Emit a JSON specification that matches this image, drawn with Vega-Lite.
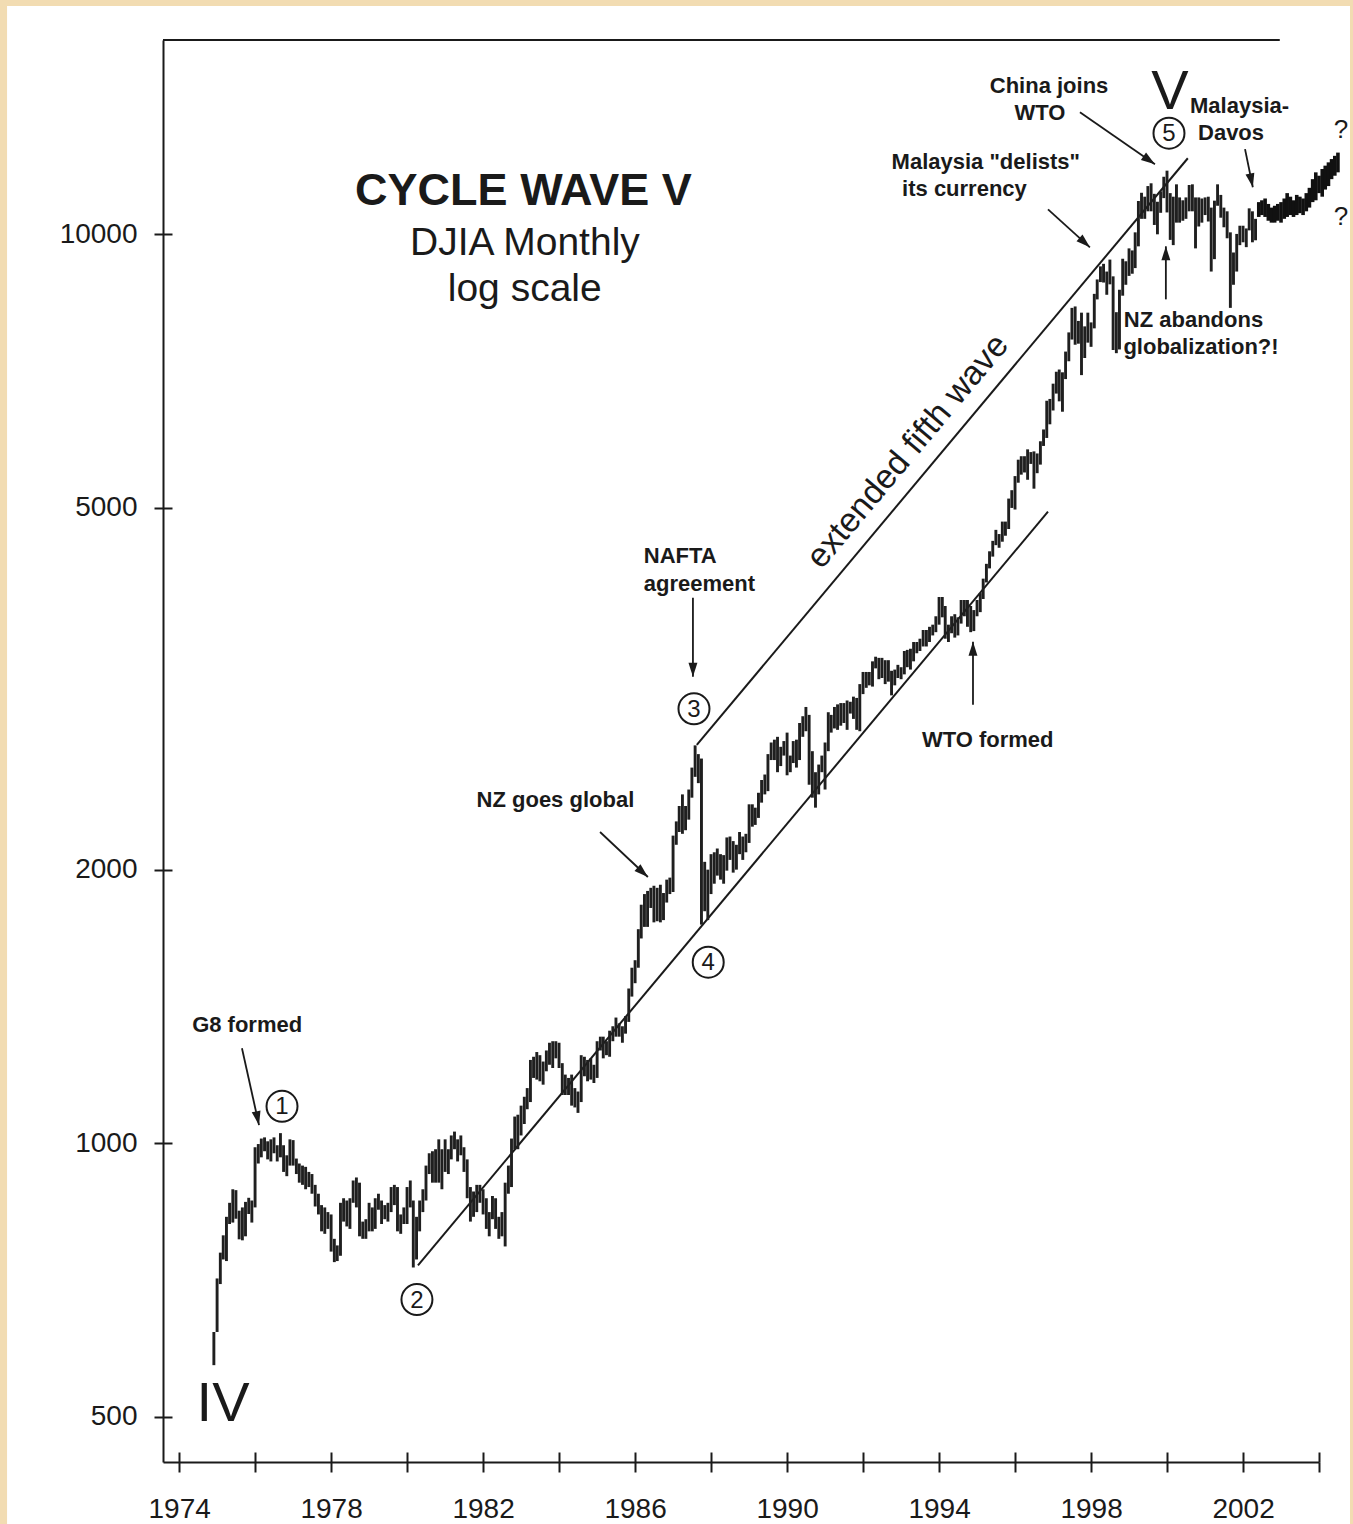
{
  "$schema": "https://vega.github.io/schema/vega-lite/v6.json",
  "width": 1156,
  "height": 1422,
  "autosize": {"type": "none"},
  "padding": {"left": 163, "top": 40, "right": 34, "bottom": 62},
  "background": "#f2dcb2",
  "config": {"view": {"stroke": null}, "font": "Liberation Sans", "text": {"font": "Liberation Sans", "color": "#1a1a1a"}},
  "datasets": {
    "page": [{"d": "1969-06-22", "v": 300, "d2": "2004-10-25", "v2": 17832}],
    "lines": [
      {"d": "1987-08-17", "v": 2743, "d2": "2000-07-19", "v2": 12125},
      {"d": "1980-04-15", "v": 734, "d2": "1996-11-13", "v2": 4953},
      {"d": "1973-07-30", "v": 16360, "d2": "2002-12-20", "v2": 16360}
    ],
    "bars": [
      {"d":"1974-12","v":570,"v2":620},
      {"d":"1975-01","v":620,"v2":710},{"d":"1975-02","v":700,"v2":758},{"d":"1975-03","v":745,"v2":792},{"d":"1975-04","v":742,"v2":830},{"d":"1975-05","v":815,"v2":860},{"d":"1975-06","v":818,"v2":890},{"d":"1975-07","v":826,"v2":888},{"d":"1975-08","v":784,"v2":843},{"d":"1975-09","v":782,"v2":850},{"d":"1975-10","v":790,"v2":862},{"d":"1975-11","v":836,"v2":871},{"d":"1975-12","v":818,"v2":865},
      {"d":"1976-01","v":850,"v2":990},{"d":"1976-02","v":950,"v2":998},{"d":"1976-03","v":965,"v2":1012},{"d":"1976-04","v":980,"v2":1015},{"d":"1976-05","v":960,"v2":1005},{"d":"1976-06","v":955,"v2":1010},{"d":"1976-07","v":975,"v2":1015},{"d":"1976-08","v":955,"v2":995},{"d":"1976-09","v":965,"v2":1026},{"d":"1976-10","v":930,"v2":995},{"d":"1976-11","v":920,"v2":970},{"d":"1976-12","v":945,"v2":1010},
      {"d":"1977-01","v":945,"v2":1008},{"d":"1977-02","v":925,"v2":962},{"d":"1977-03","v":905,"v2":950},{"d":"1977-04","v":900,"v2":945},{"d":"1977-05","v":890,"v2":942},{"d":"1977-06","v":895,"v2":930},{"d":"1977-07","v":880,"v2":925},{"d":"1977-08","v":852,"v2":900},{"d":"1977-09","v":835,"v2":880},{"d":"1977-10","v":800,"v2":855},{"d":"1977-11","v":795,"v2":850},{"d":"1977-12","v":805,"v2":840},
      {"d":"1978-01","v":760,"v2":835},{"d":"1978-02","v":740,"v2":785},{"d":"1978-03","v":742,"v2":772},{"d":"1978-04","v":752,"v2":860},{"d":"1978-05","v":820,"v2":870},{"d":"1978-06","v":810,"v2":865},{"d":"1978-07","v":805,"v2":870},{"d":"1978-08","v":860,"v2":910},{"d":"1978-09","v":850,"v2":917},{"d":"1978-10","v":790,"v2":905},{"d":"1978-11","v":785,"v2":820},{"d":"1978-12","v":785,"v2":825},
      {"d":"1979-01","v":800,"v2":860},{"d":"1979-02","v":800,"v2":850},{"d":"1979-03","v":805,"v2":870},{"d":"1979-04","v":845,"v2":880},{"d":"1979-05","v":815,"v2":865},{"d":"1979-06","v":825,"v2":855},{"d":"1979-07","v":820,"v2":860},{"d":"1979-08","v":840,"v2":895},{"d":"1979-09","v":855,"v2":900},{"d":"1979-10","v":800,"v2":895},{"d":"1979-11","v":795,"v2":835},{"d":"1979-12","v":815,"v2":850},
      {"d":"1980-01","v":815,"v2":895},{"d":"1980-02","v":850,"v2":910},{"d":"1980-03","v":730,"v2":865},{"d":"1980-04","v":745,"v2":830},{"d":"1980-05","v":800,"v2":865},{"d":"1980-06","v":840,"v2":890},{"d":"1980-07","v":865,"v2":945},{"d":"1980-08","v":925,"v2":975},{"d":"1980-09","v":905,"v2":980},{"d":"1980-10","v":905,"v2":985},{"d":"1980-11","v":905,"v2":1010},{"d":"1980-12","v":890,"v2":985},
      {"d":"1981-01","v":930,"v2":1010},{"d":"1981-02","v":925,"v2":985},{"d":"1981-03","v":960,"v2":1020},{"d":"1981-04","v":985,"v2":1030},{"d":"1981-05","v":955,"v2":1010},{"d":"1981-06","v":970,"v2":1020},{"d":"1981-07","v":930,"v2":990},{"d":"1981-08","v":870,"v2":960},{"d":"1981-09","v":820,"v2":895},{"d":"1981-10","v":830,"v2":885},{"d":"1981-11","v":840,"v2":900},{"d":"1981-12","v":860,"v2":900},
      {"d":"1982-01","v":835,"v2":890},{"d":"1982-02","v":805,"v2":870},{"d":"1982-03","v":790,"v2":840},{"d":"1982-04","v":825,"v2":875},{"d":"1982-05","v":805,"v2":870},{"d":"1982-06","v":785,"v2":830},{"d":"1982-07","v":790,"v2":840},{"d":"1982-08","v":770,"v2":905},{"d":"1982-09","v":880,"v2":945},{"d":"1982-10","v":895,"v2":1012},{"d":"1982-11","v":985,"v2":1070},{"d":"1982-12","v":985,"v2":1075},
      {"d":"1983-01","v":1020,"v2":1100},{"d":"1983-02","v":1050,"v2":1125},{"d":"1983-03","v":1090,"v2":1150},{"d":"1983-04","v":1110,"v2":1235},{"d":"1983-05","v":1180,"v2":1245},{"d":"1983-06","v":1175,"v2":1260},{"d":"1983-07","v":1170,"v2":1250},{"d":"1983-08","v":1160,"v2":1230},{"d":"1983-09","v":1200,"v2":1265},{"d":"1983-10","v":1220,"v2":1290},{"d":"1983-11","v":1210,"v2":1295},{"d":"1983-12","v":1240,"v2":1295},
      {"d":"1984-01","v":1210,"v2":1290},{"d":"1984-02","v":1130,"v2":1225},{"d":"1984-03","v":1130,"v2":1190},{"d":"1984-04","v":1130,"v2":1180},{"d":"1984-05","v":1100,"v2":1190},{"d":"1984-06","v":1095,"v2":1150},{"d":"1984-07","v":1080,"v2":1140},{"d":"1984-08","v":1110,"v2":1250},{"d":"1984-09","v":1185,"v2":1245},{"d":"1984-10","v":1170,"v2":1235},{"d":"1984-11","v":1175,"v2":1240},{"d":"1984-12","v":1165,"v2":1220},
      {"d":"1985-01","v":1180,"v2":1295},{"d":"1985-02","v":1265,"v2":1310},{"d":"1985-03","v":1240,"v2":1310},{"d":"1985-04","v":1250,"v2":1295},{"d":"1985-05","v":1245,"v2":1330},{"d":"1985-06","v":1295,"v2":1345},{"d":"1985-07","v":1310,"v2":1375},{"d":"1985-08","v":1310,"v2":1355},{"d":"1985-09","v":1290,"v2":1345},{"d":"1985-10","v":1320,"v2":1380},{"d":"1985-11","v":1360,"v2":1480},{"d":"1985-12","v":1450,"v2":1560},
      {"d":"1986-01","v":1500,"v2":1590},{"d":"1986-02","v":1560,"v2":1720},{"d":"1986-03","v":1680,"v2":1830},{"d":"1986-04","v":1730,"v2":1880},{"d":"1986-05","v":1730,"v2":1895},{"d":"1986-06","v":1815,"v2":1910},{"d":"1986-07","v":1750,"v2":1920},{"d":"1986-08","v":1755,"v2":1910},{"d":"1986-09","v":1750,"v2":1925},{"d":"1986-10","v":1760,"v2":1885},{"d":"1986-11","v":1840,"v2":1950},{"d":"1986-12","v":1880,"v2":1960},
      {"d":"1987-01","v":1890,"v2":2180},{"d":"1987-02","v":2130,"v2":2260},{"d":"1987-03","v":2200,"v2":2350},{"d":"1987-04","v":2190,"v2":2420},{"d":"1987-05","v":2210,"v2":2350},{"d":"1987-06","v":2270,"v2":2450},{"d":"1987-07","v":2400,"v2":2590},{"d":"1987-08","v":2530,"v2":2740},{"d":"1987-09","v":2490,"v2":2680},{"d":"1987-10","v":1740,"v2":2650},{"d":"1987-11","v":1800,"v2":2040},{"d":"1987-12","v":1760,"v2":2000},
      {"d":"1988-01","v":1880,"v2":2080},{"d":"1988-02","v":1930,"v2":2090},{"d":"1988-03","v":1970,"v2":2110},{"d":"1988-04","v":1950,"v2":2080},{"d":"1988-05","v":1930,"v2":2075},{"d":"1988-06","v":1995,"v2":2170},{"d":"1988-07","v":2050,"v2":2175},{"d":"1988-08","v":1985,"v2":2150},{"d":"1988-09","v":2000,"v2":2130},{"d":"1988-10","v":2080,"v2":2200},{"d":"1988-11","v":2050,"v2":2175},{"d":"1988-12","v":2090,"v2":2190},
      {"d":"1989-01","v":2140,"v2":2360},{"d":"1989-02","v":2230,"v2":2360},{"d":"1989-03","v":2240,"v2":2340},{"d":"1989-04","v":2280,"v2":2430},{"d":"1989-05","v":2370,"v2":2510},{"d":"1989-06","v":2420,"v2":2545},{"d":"1989-07","v":2440,"v2":2680},{"d":"1989-08","v":2640,"v2":2760},{"d":"1989-09","v":2640,"v2":2780},{"d":"1989-10","v":2560,"v2":2800},{"d":"1989-11","v":2600,"v2":2730},{"d":"1989-12","v":2670,"v2":2770},
      {"d":"1990-01","v":2540,"v2":2830},{"d":"1990-02","v":2560,"v2":2670},{"d":"1990-03","v":2620,"v2":2770},{"d":"1990-04","v":2590,"v2":2780},{"d":"1990-05","v":2640,"v2":2900},{"d":"1990-06","v":2800,"v2":2950},{"d":"1990-07","v":2840,"v2":3020},{"d":"1990-08","v":2480,"v2":2960},{"d":"1990-09","v":2400,"v2":2700},{"d":"1990-10","v":2340,"v2":2560},{"d":"1990-11","v":2420,"v2":2610},{"d":"1990-12","v":2560,"v2":2670},
      {"d":"1991-01","v":2450,"v2":2760},{"d":"1991-02","v":2700,"v2":2980},{"d":"1991-03","v":2830,"v2":2960},{"d":"1991-04","v":2860,"v2":3020},{"d":"1991-05","v":2850,"v2":3040},{"d":"1991-06","v":2880,"v2":3050},{"d":"1991-07","v":2900,"v2":3050},{"d":"1991-08","v":2850,"v2":3070},{"d":"1991-09","v":2970,"v2":3060},{"d":"1991-10","v":2930,"v2":3100},{"d":"1991-11","v":2850,"v2":3090},{"d":"1991-12","v":2840,"v2":3200},
      {"d":"1992-01","v":3120,"v2":3300},{"d":"1992-02","v":3170,"v2":3300},{"d":"1992-03","v":3190,"v2":3300},{"d":"1992-04","v":3180,"v2":3390},{"d":"1992-05","v":3330,"v2":3430},{"d":"1992-06","v":3240,"v2":3420},{"d":"1992-07","v":3250,"v2":3420},{"d":"1992-08","v":3200,"v2":3400},{"d":"1992-09","v":3220,"v2":3400},{"d":"1992-10","v":3110,"v2":3310},{"d":"1992-11","v":3190,"v2":3320},{"d":"1992-12","v":3250,"v2":3360},
      {"d":"1993-01","v":3240,"v2":3340},{"d":"1993-02","v":3280,"v2":3480},{"d":"1993-03","v":3340,"v2":3490},{"d":"1993-04","v":3320,"v2":3500},{"d":"1993-05","v":3390,"v2":3560},{"d":"1993-06","v":3460,"v2":3560},{"d":"1993-07","v":3480,"v2":3590},{"d":"1993-08","v":3520,"v2":3670},{"d":"1993-09","v":3520,"v2":3670},{"d":"1993-10","v":3560,"v2":3700},{"d":"1993-11","v":3620,"v2":3720},{"d":"1993-12","v":3650,"v2":3800},
      {"d":"1994-01","v":3720,"v2":3990},{"d":"1994-02","v":3790,"v2":3990},{"d":"1994-03","v":3590,"v2":3900},{"d":"1994-04","v":3560,"v2":3720},{"d":"1994-05","v":3640,"v2":3800},{"d":"1994-06","v":3600,"v2":3820},{"d":"1994-07","v":3620,"v2":3790},{"d":"1994-08","v":3730,"v2":3960},{"d":"1994-09","v":3800,"v2":3960},{"d":"1994-10","v":3700,"v2":3960},{"d":"1994-11","v":3650,"v2":3900},{"d":"1994-12","v":3660,"v2":3860},
      {"d":"1995-01","v":3800,"v2":3960},{"d":"1995-02","v":3840,"v2":4030},{"d":"1995-03","v":3970,"v2":4180},{"d":"1995-04","v":4140,"v2":4340},{"d":"1995-05","v":4290,"v2":4480},{"d":"1995-06","v":4420,"v2":4600},{"d":"1995-07","v":4550,"v2":4730},{"d":"1995-08","v":4520,"v2":4680},{"d":"1995-09","v":4590,"v2":4830},{"d":"1995-10","v":4660,"v2":4830},{"d":"1995-11","v":4740,"v2":5120},{"d":"1995-12","v":5000,"v2":5230},
      {"d":"1996-01","v":4980,"v2":5420},{"d":"1996-02","v":5330,"v2":5650},{"d":"1996-03","v":5440,"v2":5700},{"d":"1996-04","v":5470,"v2":5700},{"d":"1996-05","v":5370,"v2":5800},{"d":"1996-06","v":5590,"v2":5760},{"d":"1996-07","v":5250,"v2":5770},{"d":"1996-08","v":5460,"v2":5740},{"d":"1996-09","v":5580,"v2":5920},{"d":"1996-10","v":5850,"v2":6100},{"d":"1996-11","v":5970,"v2":6560},{"d":"1996-12","v":6180,"v2":6590},
      {"d":"1997-01","v":6400,"v2":6850},{"d":"1997-02","v":6680,"v2":7060},{"d":"1997-03","v":6550,"v2":7100},{"d":"1997-04","v":6380,"v2":7050},{"d":"1997-05","v":6930,"v2":7430},{"d":"1997-06","v":7250,"v2":7800},{"d":"1997-07","v":7660,"v2":8300},{"d":"1997-08","v":7560,"v2":8330},{"d":"1997-09","v":7580,"v2":8030},{"d":"1997-10","v":7000,"v2":8200},{"d":"1997-11","v":7310,"v2":7920},{"d":"1997-12","v":7600,"v2":8200},
      {"d":"1998-01","v":7520,"v2":8000},{"d":"1998-02","v":7880,"v2":8600},{"d":"1998-03","v":8480,"v2":8920},{"d":"1998-04","v":8860,"v2":9220},{"d":"1998-05","v":8850,"v2":9280},{"d":"1998-06","v":8580,"v2":9100},{"d":"1998-07","v":8810,"v2":9380},{"d":"1998-08","v":7460,"v2":8990},{"d":"1998-09","v":7400,"v2":8210},{"d":"1998-10","v":7470,"v2":8690},{"d":"1998-11","v":8560,"v2":9400},{"d":"1998-12","v":8800,"v2":9340},
      {"d":"1999-01","v":9000,"v2":9650},{"d":"1999-02","v":9050,"v2":9600},{"d":"1999-03","v":9180,"v2":10050},{"d":"1999-04","v":9700,"v2":10880},{"d":"1999-05","v":10400,"v2":11110},{"d":"1999-06","v":10400,"v2":11000},{"d":"1999-07","v":10600,"v2":11300},{"d":"1999-08","v":10600,"v2":11380},{"d":"1999-09","v":10240,"v2":11080},{"d":"1999-10","v":10000,"v2":10860},{"d":"1999-11","v":10560,"v2":11150},{"d":"1999-12","v":10960,"v2":11570},
      {"d":"2000-01","v":10570,"v2":11750},{"d":"2000-02","v":9860,"v2":11100},{"d":"2000-03","v":9730,"v2":11000},{"d":"2000-04","v":10300,"v2":11350},{"d":"2000-05","v":10300,"v2":10980},{"d":"2000-06","v":10350,"v2":10900},{"d":"2000-07","v":10400,"v2":10980},{"d":"2000-08","v":10600,"v2":11330},{"d":"2000-09","v":10600,"v2":11350},{"d":"2000-10","v":9650,"v2":10980},{"d":"2000-11","v":10200,"v2":10980},{"d":"2000-12","v":10300,"v2":10950},
      {"d":"2001-01","v":10500,"v2":10980},{"d":"2001-02","v":10330,"v2":11000},{"d":"2001-03","v":9100,"v2":10700},{"d":"2001-04","v":9390,"v2":10890},{"d":"2001-05","v":10750,"v2":11350},{"d":"2001-06","v":10430,"v2":11050},{"d":"2001-07","v":10180,"v2":10700},{"d":"2001-08","v":9900,"v2":10600},{"d":"2001-09","v":8300,"v2":10050},{"d":"2001-10","v":8800,"v2":9550},{"d":"2001-11","v":9100,"v2":10010},{"d":"2001-12","v":9730,"v2":10220},
      {"d":"2002-01","v":9800,"v2":10220},{"d":"2002-02","v":9680,"v2":10150},{"d":"2002-03","v":10100,"v2":10680},{"d":"2002-04","v":9800,"v2":10600},{"d":"2002-05","v":9850,"v2":10400}
    ],
    "proj": [
      {"d":"2002-06","v":10450,"v2":10850},{"d":"2002-07","v":10500,"v2":10900},{"d":"2002-08","v":10450,"v2":10950},{"d":"2002-09","v":10350,"v2":10800},{"d":"2002-10","v":10300,"v2":10700},{"d":"2002-11","v":10300,"v2":10750},{"d":"2002-12","v":10350,"v2":10800},
      {"d":"2003-01","v":10300,"v2":10850},{"d":"2003-02","v":10400,"v2":10950},{"d":"2003-03","v":10450,"v2":11100},{"d":"2003-04","v":10500,"v2":11000},{"d":"2003-05","v":10450,"v2":10900},{"d":"2003-06","v":10500,"v2":11050},{"d":"2003-07","v":10550,"v2":11000},{"d":"2003-08","v":10500,"v2":10950},{"d":"2003-09","v":10600,"v2":11100},{"d":"2003-10","v":10700,"v2":11250},{"d":"2003-11","v":10850,"v2":11500},{"d":"2003-12","v":10900,"v2":11700},
      {"d":"2004-01","v":11100,"v2":11600},{"d":"2004-02","v":11000,"v2":11800},{"d":"2004-03","v":11200,"v2":11900},{"d":"2004-04","v":11300,"v2":12000},{"d":"2004-05","v":11500,"v2":12100},{"d":"2004-06","v":11600,"v2":12200},{"d":"2004-07","v":11700,"v2":12300}
    ],
    "arrows": [
      {"name":"G8","d":"1976-02-08","v":1047,"d2":"1975-08-28","v2":1272},
      {"name":"NZglobal","d":"1986-05-04","v":1963,"d2":"1985-01-29","v2":2200},
      {"name":"NAFTA","d":"1987-07-11","v":3261,"d2":"1987-07-11","v2":3982},
      {"name":"WTO","d":"1994-11-23","v":3563,"d2":"1994-11-23","v2":3037},
      {"name":"delists","d":"1997-12-21","v":9676,"d2":"1996-11-13","v2":10654},
      {"name":"China","d":"1999-09-07","v":11942,"d2":"1997-09-16","v2":13627},
      {"name":"Davos","d":"2002-04-05","v":11265,"d2":"2002-01-20","v2":12409},
      {"name":"NZabandons","d":"1999-12-21","v":9701,"d2":"1999-12-21","v2":8481}
    ],
    "waves": [
      {"label":"1","d":"1976-09-16","v":1098},
      {"label":"2","d":"1980-04-05","v":673},
      {"label":"3","d":"1987-07-21","v":3006},
      {"label":"4","d":"1987-12-05","v":1582},
      {"label":"5","d":"2000-01-20","v":12920}
    ]
  },
  "encoding": {
    "x": {"field": "d", "type": "temporal", "scale": {"type": "utc", "domain": [{"year": 1973, "month": 7, "date": 30, "utc": true}, {"year": 2004, "month": 1, "date": 1, "utc": true}], "nice": false}, "axis": null},
    "y": {"field": "v", "type": "quantitative", "scale": {"type": "log", "domain": [446, 16360], "nice": false, "zero": false}, "axis": null}
  },
  "layer": [
    {"data": {"name": "page"}, "mark": {"type": "rect", "color": "white"}, "encoding": {"x2": {"field": "d2"}, "y2": {"field": "v2"}}},
    {"data": {"name": "lines"}, "mark": {"type": "rule", "color": "#1a1a1a", "strokeWidth": 2}, "encoding": {"x2": {"field": "d2"}, "y2": {"field": "v2"}}},
    {
      "data": {"name": "bars"},
      "mark": {"type": "rule", "color": "#1f1f1f", "strokeWidth": 2.9},
      "encoding": {
        "x": {"field": "d", "type": "temporal", "scale": {"type": "utc", "domain": [{"year": 1973, "month": 7, "date": 30, "utc": true}, {"year": 2004, "month": 1, "date": 1, "utc": true}], "nice": false},
          "axis": {"orient": "bottom", "title": null, "grid": false, "zindex": 2,
            "values": [{"year":1974,"utc":true},{"year":1976,"utc":true},{"year":1978,"utc":true},{"year":1980,"utc":true},{"year":1982,"utc":true},{"year":1984,"utc":true},{"year":1986,"utc":true},{"year":1988,"utc":true},{"year":1990,"utc":true},{"year":1992,"utc":true},{"year":1994,"utc":true},{"year":1996,"utc":true},{"year":1998,"utc":true},{"year":2000,"utc":true},{"year":2002,"utc":true},{"year":2004,"utc":true}],
            "labelExpr": "utcyear(datum.value) % 4 == 0 ? '' : utcFormat(datum.value, '%Y')",
            "domainColor": "#1a1a1a", "domainWidth": 2, "tickColor": "#1a1a1a", "tickWidth": 2, "tickSize": 10,
            "labelFont": "Liberation Sans", "labelFontSize": 28, "labelColor": "#1a1a1a", "labelPadding": 23, "labelOverlap": false, "labelFlush": false}},
        "y": {"field": "v", "type": "quantitative", "scale": {"type": "log", "domain": [446, 16360], "nice": false, "zero": false},
          "axis": {"orient": "left", "title": null, "grid": false, "zindex": 2, "values": [500, 1000, 2000, 5000, 10000], "format": "d",
            "domainColor": "#1a1a1a", "domainWidth": 2, "tickColor": "#1a1a1a", "tickWidth": 2, "tickSize": 9,
            "labelFont": "Liberation Sans", "labelFontSize": 28, "labelColor": "#1a1a1a", "labelPadding": 17, "labelOverlap": false, "labelFlush": false}},
        "y2": {"field": "v2"}
      }
    },
    {
      "data": {"name": "proj"},
      "mark": {"type": "rule", "color": "#111111", "strokeWidth": 3.6},
      "encoding": {
        "x": {"field": "d", "type": "temporal", "scale": {"type": "utc", "domain": [{"year": 1973, "month": 7, "date": 30, "utc": true}, {"year": 2004, "month": 1, "date": 1, "utc": true}], "nice": false},
          "axis": {"orient": "bottom", "title": null, "grid": false, "labels": false, "domain": false, "zindex": 2,
            "values": [{"year":1974,"utc":true},{"year":1976,"utc":true},{"year":1978,"utc":true},{"year":1980,"utc":true},{"year":1982,"utc":true},{"year":1984,"utc":true},{"year":1986,"utc":true},{"year":1988,"utc":true},{"year":1990,"utc":true},{"year":1992,"utc":true},{"year":1994,"utc":true},{"year":1996,"utc":true},{"year":1998,"utc":true},{"year":2000,"utc":true},{"year":2002,"utc":true},{"year":2004,"utc":true}],
            "tickColor": "#1a1a1a", "tickWidth": 2, "tickSize": -10}},
        "y": {"field": "v", "type": "quantitative", "scale": {"type": "log", "domain": [446, 16360], "nice": false, "zero": false},
          "axis": {"orient": "left", "title": null, "grid": false, "labels": false, "domain": false, "zindex": 2, "values": [500, 1000, 2000, 5000, 10000],
            "tickColor": "#1a1a1a", "tickWidth": 2, "tickSize": -9}},
        "y2": {"field": "v2"}
      }
    },
    {"data": {"name": "arrows"}, "mark": {"type": "rule", "color": "#1a1a1a", "strokeWidth": 1.8}, "encoding": {"x2": {"field": "d2"}, "y2": {"field": "v2"}}},
    {"data": {"name": "arrows"}, "transform": [{"filter": {"field": "name", "oneOf": ["WTO", "NZabandons"]}}], "mark": {"type": "point", "shape": "M0,0L0.32,1L-0.32,1Z", "size": 784, "filled": true, "color": "#1a1a1a", "opacity": 1, "angle": 0}},
    {"data": {"name": "arrows"}, "transform": [{"filter": {"field": "name", "oneOf": ["NAFTA"]}}], "mark": {"type": "point", "shape": "M0,0L0.32,1L-0.32,1Z", "size": 784, "filled": true, "color": "#1a1a1a", "opacity": 1, "angle": 180}},
    {"data": {"name": "arrows"}, "transform": [{"filter": {"field": "name", "oneOf": ["G8", "Davos"]}}], "mark": {"type": "point", "shape": "M0,0L0.32,1L-0.32,1Z", "size": 784, "filled": true, "color": "#1a1a1a", "opacity": 1, "angle": 168}},
    {"data": {"name": "arrows"}, "transform": [{"filter": {"field": "name", "oneOf": ["NZglobal", "delists"]}}], "mark": {"type": "point", "shape": "M0,0L0.32,1L-0.32,1Z", "size": 784, "filled": true, "color": "#1a1a1a", "opacity": 1, "angle": 132}},
    {"data": {"name": "arrows"}, "transform": [{"filter": {"field": "name", "oneOf": ["China"]}}], "mark": {"type": "point", "shape": "M0,0L0.32,1L-0.32,1Z", "size": 784, "filled": true, "color": "#1a1a1a", "opacity": 1, "angle": 125}},
    {"data": {"name": "waves"}, "mark": {"type": "point", "shape": "circle", "size": 960, "filled": true, "fill": "white", "stroke": "#1a1a1a", "strokeWidth": 2, "opacity": 1}},
    {"data": {"name": "waves"}, "mark": {"type": "text", "fontSize": 24, "align": "center", "baseline": "middle", "dy": 1}, "encoding": {"text": {"field": "label"}}},
    {"data": {"values": [{"txt": "CYCLE WAVE V", "d": "1983-01-24", "v": 11153}]}, "mark": {"type": "text", "fontSize": 45, "fontWeight": "bold", "align": "center", "baseline": "middle"}, "encoding": {"text": {"field": "txt"}}},
    {"data": {"values": [{"txt": "DJIA Monthly", "d": "1983-02-07", "v": 9775}, {"txt": "log scale", "d": "1983-02-05", "v": 8699}]}, "mark": {"type": "text", "fontSize": 39, "align": "center", "baseline": "middle"}, "encoding": {"text": {"field": "txt"}}},
    {"data": {"values": [
      {"txt": "G8 formed", "d": "1975-10-17", "v": 1349},
      {"txt": "NZ goes global", "d": "1983-11-27", "v": 2386},
      {"txt": "Malaysia \"delists\"", "d": "1995-03-26", "v": 12001},
      {"txt": "its currency", "d": "1994-09-02", "v": 11209},
      {"txt": "China joins", "d": "1996-11-23", "v": 14555},
      {"txt": "WTO", "d": "1996-08-28", "v": 13595}
    ]}, "mark": {"type": "text", "fontSize": 22, "fontWeight": "bold", "align": "center", "baseline": "middle"}, "encoding": {"text": {"field": "txt"}}},
    {"data": {"values": [
      {"txt": "NAFTA", "d": "1986-03-26", "v": 4432},
      {"txt": "agreement", "d": "1986-03-26", "v": 4126},
      {"txt": "WTO formed", "d": "1993-07-20", "v": 2779},
      {"txt": "Malaysia-", "d": "2000-08-09", "v": 13836},
      {"txt": "Davos", "d": "2000-10-25", "v": 12920},
      {"txt": "NZ abandons", "d": "1998-11-12", "v": 8042},
      {"txt": "globalization?!", "d": "1998-11-08", "v": 7509}
    ]}, "mark": {"type": "text", "fontSize": 22, "fontWeight": "bold", "align": "left", "baseline": "middle"}, "encoding": {"text": {"field": "txt"}}},
    {"data": {"values": [{"txt": "extended fifth wave", "d": "1993-03-08", "v": 5768}]}, "mark": {"type": "text", "fontSize": 34, "align": "center", "baseline": "middle", "angle": 310}, "encoding": {"text": {"field": "txt"}}},
    {"data": {"values": [{"txt": "IV", "d": "1975-02-27", "v": 516}, {"txt": "V", "d": "2000-01-30", "v": 14334}]}, "mark": {"type": "text", "fontSize": 56, "align": "center", "baseline": "middle"}, "encoding": {"text": {"field": "txt"}}},
    {"data": {"values": [{"txt": "?", "d": "2004-07-30", "v": 13017}, {"txt": "?", "d": "2004-07-30", "v": 10440}]}, "mark": {"type": "text", "fontSize": 26, "align": "center", "baseline": "middle"}, "encoding": {"text": {"field": "txt"}}}
  ],
  "resolve": {"axis": {"x": "independent", "y": "independent"}}
}
